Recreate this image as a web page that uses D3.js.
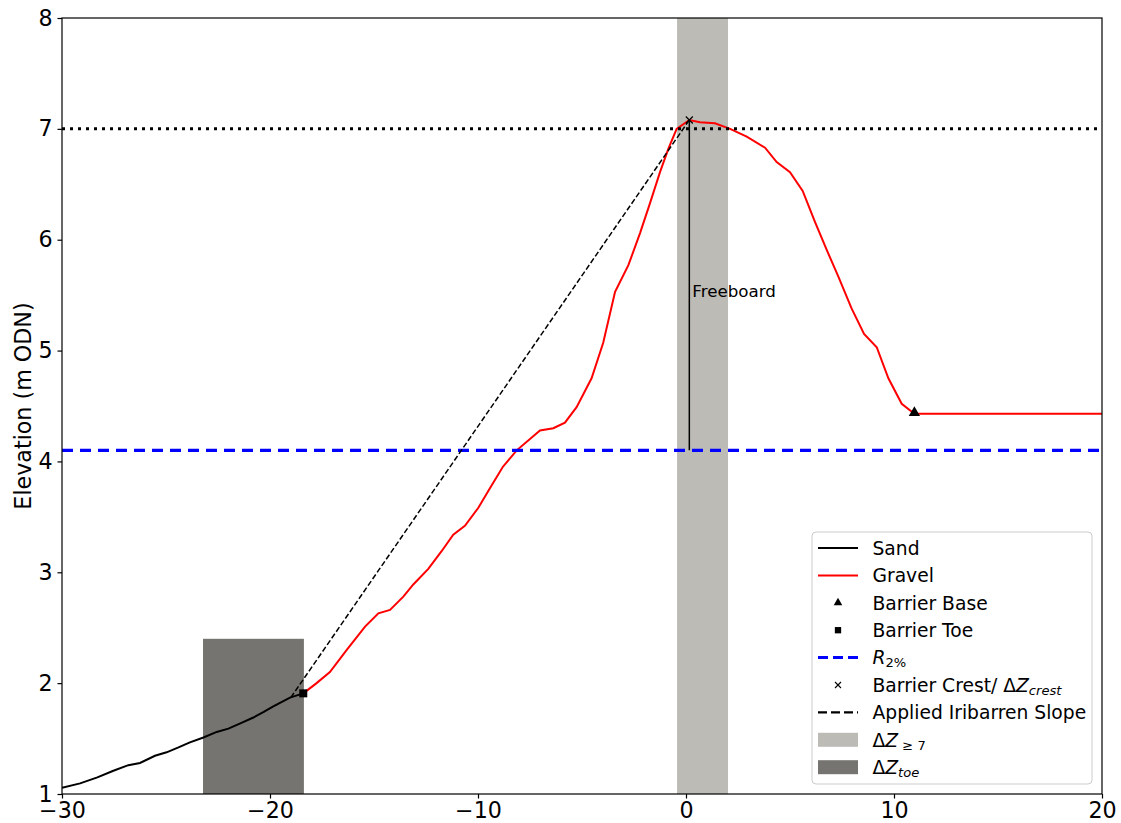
<!DOCTYPE html>
<html>
<head>
<meta charset="utf-8">
<script src="https://cdn.jsdelivr.net/npm/d3@7/dist/d3.min.js"></script>
<style>
  html, body { margin: 0; padding: 0; background: #fff; }
  svg { display: block; font-family: "DejaVu Sans", sans-serif; }
</style>
</head>
<body>
<svg id="chart" width="1121" height="823"></svg>
<script>
// Beach profile: chainage (m) vs elevation (m ODN)
const sandX = [-30.0, -29.13, -28.3, -27.53, -26.81, -26.25, -25.53, -24.97, -24.4, -23.85, -23.2, -22.56, -22.0, -21.4, -20.8, -20.3, -19.84, -19.04, -18.4];
const sandY = [1.057, 1.096, 1.15, 1.21, 1.26, 1.28, 1.345, 1.376, 1.42, 1.466, 1.51, 1.56, 1.59, 1.64, 1.69, 1.74, 1.79, 1.87, 1.908];

const gravelX = [-18.4, -17.76, -17.12, -16.31, -15.43, -14.79, -14.23, -13.59, -13.11, -12.39, -11.75, -11.19, -10.63, -9.99, -9.42, -8.81, -8.14, -7.02, -6.38, -5.82, -5.26, -4.54, -3.98, -3.41, -2.77, -2.21, -1.73, -1.25, -0.85, -0.45, 0.16, 0.67, 1.39, 2.12, 2.92, 3.80, 4.36, 5.0, 5.61, 6.20, 6.76, 7.32, 7.96, 8.56, 9.17, 9.73, 10.37, 10.98, 11.57, 20.0];
const gravelY = [1.908, 2.0, 2.10, 2.30, 2.51, 2.63, 2.66, 2.78, 2.89, 3.03, 3.19, 3.34, 3.42, 3.58, 3.76, 3.95, 4.10, 4.28, 4.30, 4.35, 4.49, 4.75, 5.07, 5.53, 5.77, 6.06, 6.33, 6.61, 6.82, 7.00, 7.08, 7.06, 7.05, 7.00, 6.93, 6.83, 6.70, 6.61, 6.44, 6.16, 5.91, 5.67, 5.38, 5.15, 5.03, 4.75, 4.52, 4.43, 4.43, 4.43];

const barrierBase = [10.98, 4.43];
const barrierToe = [-18.4, 1.908];
const barrierCrest = [0.16, 7.08];
const r2Level = 4.1;
const crestLevel = 7.0;
const iribarrenX = [-19.0, 0.16];
const iribarrenY = [1.87, 7.08];
const dzAboveX = [-0.43, 2.02];     // band where elevation >= 7
const dzToeX = [-23.22, -18.37];    // toe band
const dzToeTop = 2.4;

const xTicks = [-30, -20, -10, 0, 10, 20];
const yTicks = [1, 2, 3, 4, 5, 6, 7, 8];

const margin = { left: 62, top: 18, right: 1102, bottom: 794 };
const svg = d3.select("#chart");

const x = d3.scaleLinear().domain([-30, 20]).range([margin.left, margin.right]);
const y = d3.scaleLinear().domain([1, 8]).range([margin.bottom, margin.top]);

const lightGrey = "#bcbbb6";
const darkGrey = "#757470";
const tickFont = 22.2;

svg.append("defs").append("clipPath").attr("id", "plot-clip")
  .append("rect").attr("x", margin.left).attr("y", margin.top)
  .attr("width", margin.right - margin.left).attr("height", margin.bottom - margin.top);

const plot = svg.append("g").attr("clip-path", "url(#plot-clip)");

// shaded bands
plot.append("rect")
  .attr("x", x(dzAboveX[0])).attr("width", x(dzAboveX[1]) - x(dzAboveX[0]))
  .attr("y", y(8)).attr("height", y(1) - y(8))
  .attr("fill", lightGrey);
plot.append("rect")
  .attr("x", x(dzToeX[0])).attr("width", x(dzToeX[1]) - x(dzToeX[0]))
  .attr("y", y(dzToeTop)).attr("height", y(1) - y(dzToeTop))
  .attr("fill", darkGrey);

const line = d3.line().x(d => x(d[0])).y(d => y(d[1]));

// sand and gravel profiles
plot.append("path").datum(d3.zip(sandX, sandY)).attr("d", line)
  .attr("fill", "none").attr("stroke", "#000").attr("stroke-width", 2);
plot.append("path").datum(d3.zip(gravelX, gravelY)).attr("d", line)
  .attr("fill", "none").attr("stroke", "#ff0000").attr("stroke-width", 2);

// R2% run-up level
plot.append("line")
  .attr("x1", x(-30)).attr("x2", x(20)).attr("y1", y(r2Level)).attr("y2", y(r2Level))
  .attr("stroke", "#0000ff").attr("stroke-width", 3.2).attr("stroke-dasharray", "11,7");

// crest threshold
plot.append("line")
  .attr("x1", x(-30)).attr("x2", x(20)).attr("y1", y(crestLevel)).attr("y2", y(crestLevel))
  .attr("stroke", "#000").attr("stroke-width", 3).attr("stroke-dasharray", "3,5");

// Iribarren slope
plot.append("path").datum(d3.zip(iribarrenX, iribarrenY)).attr("d", line)
  .attr("fill", "none").attr("stroke", "#000").attr("stroke-width", 1.5)
  .attr("stroke-dasharray", "5.5,2.5");

// freeboard
plot.append("line")
  .attr("x1", x(barrierCrest[0])).attr("x2", x(barrierCrest[0]))
  .attr("y1", y(r2Level)).attr("y2", y(barrierCrest[1]))
  .attr("stroke", "#000").attr("stroke-width", 1.5);
svg.append("text")
  .attr("x", x(barrierCrest[0]) + 3).attr("y", y(5.48))
  .attr("font-size", 16.7).attr("fill", "#000")
  .text("Freeboard");

// markers
const tri = d3.symbol().type(d3.symbolTriangle).size(55);
const sq = d3.symbol().type(d3.symbolSquare).size(64);
svg.append("path").attr("d", tri())
  .attr("transform", `translate(${x(barrierBase[0])},${y(barrierBase[1]) - 1})`).attr("fill", "#000");
svg.append("path").attr("d", sq())
  .attr("transform", `translate(${x(barrierToe[0])},${y(barrierToe[1])})`).attr("fill", "#000");
const cx = x(barrierCrest[0]), cy = y(barrierCrest[1]);
svg.append("path")
  .attr("d", `M${cx - 3.5},${cy - 3.5}L${cx + 3.5},${cy + 3.5}M${cx - 3.5},${cy + 3.5}L${cx + 3.5},${cy - 3.5}`)
  .attr("stroke", "#000").attr("stroke-width", 1.2);

// axes
const xAxis = d3.axisBottom(x).tickValues(xTicks).tickSize(4.5).tickPadding(4)
  .tickFormat(d => d < 0 ? "\u2212" + Math.abs(d) : String(d));
const yAxis = d3.axisLeft(y).tickValues(yTicks).tickSize(4.5).tickPadding(5)
  .tickFormat(d => String(d));

const gx = svg.append("g").attr("transform", `translate(0,${margin.bottom})`).call(xAxis);
const gy = svg.append("g").attr("transform", `translate(${margin.left},0)`).call(yAxis);
[gx, gy].forEach(g => {
  g.select(".domain").remove();
  g.selectAll("text").attr("font-size", tickFont).attr("font-family", "DejaVu Sans").attr("fill", "#000");
  g.selectAll("line").attr("stroke", "#000").attr("stroke-width", 1.2);
});

// frame
svg.append("rect")
  .attr("x", margin.left).attr("y", margin.top)
  .attr("width", margin.right - margin.left).attr("height", margin.bottom - margin.top)
  .attr("fill", "none").attr("stroke", "#000").attr("stroke-width", 1.2);

svg.append("text")
  .attr("transform", `translate(31,${(margin.top + margin.bottom) / 2}) rotate(-90)`)
  .attr("text-anchor", "middle").attr("font-size", tickFont).attr("fill", "#000")
  .text("Elevation (m ODN)");

// legend
const legend = svg.append("g").attr("transform", "translate(812,532)");
legend.append("rect").attr("width", 280).attr("height", 252).attr("rx", 4)
  .attr("fill", "#fff").attr("fill-opacity", 0.8).attr("stroke", "#cccccc").attr("stroke-width", 1);

const rowY = i => 16 + i * 27.4;
const hx0 = 6, hx1 = 46, tx = 60.5;
const fs = 18.7;

function addLabel(i, parts) {
  const t = legend.append("text").attr("x", tx).attr("y", rowY(i) + 6.8).attr("font-size", fs).attr("fill", "#000");
  parts.forEach(p => {
    const s = t.append("tspan").text(p.t);
    if (p.i) s.attr("font-style", "italic");
    if (p.sub) s.attr("font-size", fs * 0.7).attr("baseline-shift", "-25%");
  });
}

legend.append("line").attr("x1", hx0).attr("x2", hx1).attr("y1", rowY(0)).attr("y2", rowY(0))
  .attr("stroke", "#000").attr("stroke-width", 2);
addLabel(0, [{ t: "Sand" }]);
legend.append("line").attr("x1", hx0).attr("x2", hx1).attr("y1", rowY(1)).attr("y2", rowY(1))
  .attr("stroke", "#ff0000").attr("stroke-width", 2);
addLabel(1, [{ t: "Gravel" }]);
legend.append("path").attr("d", d3.symbol().type(d3.symbolTriangle).size(32)())
  .attr("transform", `translate(${(hx0 + hx1) / 2},${rowY(2)})`).attr("fill", "#000");
addLabel(2, [{ t: "Barrier Base" }]);
legend.append("path").attr("d", d3.symbol().type(d3.symbolSquare).size(40)())
  .attr("transform", `translate(${(hx0 + hx1) / 2},${rowY(3)})`).attr("fill", "#000");
addLabel(3, [{ t: "Barrier Toe" }]);
legend.append("line").attr("x1", hx0).attr("x2", hx1).attr("y1", rowY(4)).attr("y2", rowY(4))
  .attr("stroke", "#0000ff").attr("stroke-width", 3).attr("stroke-dasharray", "10,5");
addLabel(4, [{ t: "R", i: true }, { t: "2%", sub: true }]);
{
  const mx = (hx0 + hx1) / 2, my = rowY(5);
  legend.append("path")
    .attr("d", `M${mx - 3},${my - 3}L${mx + 3},${my + 3}M${mx - 3},${my + 3}L${mx + 3},${my - 3}`)
    .attr("stroke", "#000").attr("stroke-width", 1.1);
}
addLabel(5, [{ t: "Barrier Crest/ \u0394" }, { t: "Z", i: true }, { t: "crest", i: true, sub: true }]);
legend.append("line").attr("x1", hx0).attr("x2", hx1).attr("y1", rowY(6)).attr("y2", rowY(6))
  .attr("stroke", "#000").attr("stroke-width", 2.4).attr("stroke-dasharray", "9,4");
addLabel(6, [{ t: "Applied Iribarren Slope" }]);
legend.append("rect").attr("x", hx0).attr("y", rowY(7) - 7).attr("width", hx1 - hx0).attr("height", 14)
  .attr("fill", lightGrey);
addLabel(7, [{ t: "\u0394" }, { t: "Z", i: true }, { t: " \u2265 7", sub: true }]);
legend.append("rect").attr("x", hx0).attr("y", rowY(8) - 7).attr("width", hx1 - hx0).attr("height", 14)
  .attr("fill", darkGrey);
addLabel(8, [{ t: "\u0394" }, { t: "Z", i: true }, { t: "toe", i: true, sub: true }]);
</script>
</body>
</html>
